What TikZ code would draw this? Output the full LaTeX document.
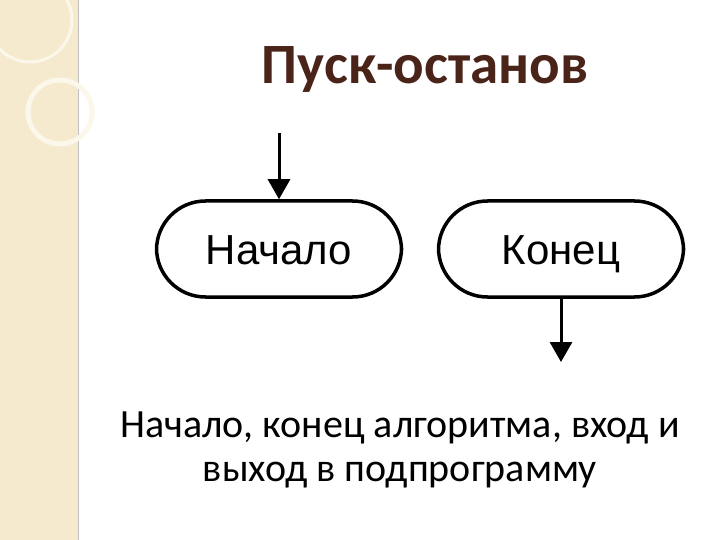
\documentclass[tikz,border=0pt]{standalone}
\usepackage{fontspec}
\setmainfont{Carlito}
\newfontfamily\arialf{Liberation Sans}
\usetikzlibrary{arrows.meta}
\definecolor{strip}{HTML}{F5EACD}
\definecolor{titlec}{HTML}{4A2418}
\tikzset{term/.style={draw=black,line width=3.5pt,rounded corners=49pt,minimum width=245pt,minimum height=96pt,text height=30pt,text depth=0pt,font=\arialf\fontsize{42}{48}\selectfont},
arr/.style={line width=3pt,-{Triangle[length=20pt,width=22pt]}}}
\begin{document}
\begin{tikzpicture}[x=1pt,y=-1pt]
\useasboundingbox (0,0) rectangle (720,540);
\fill[white] (0,0) rectangle (720,540);
\fill[strip] (0,0) rectangle (78,540);
\draw[gray!50,line width=1pt] (78,0) -- (78,540);
\draw[white!60!strip,line width=5pt] (60,112) circle (32);
\draw[white!60!strip,line width=3pt] (30,20) circle (42);
\node[text=titlec,font=\bfseries\fontsize{57}{64}\selectfont] (title) at (425,70) {Пуск-останов};
\node[term] (start) at (279,249) {Начало};
\node[term] (end) at (561,249) {Конец};
\coordinate (in) at (279,133);
\coordinate (out) at (561,362);
\draw[arr] (in) -- (start.north);
\draw[arr] (end.south) -- (out);
\node[align=center,font=\fontsize{40}{44}\selectfont] (cap) at (400,450) {Начало, конец алгоритма, вход и\\выход в подпрограмму};
\end{tikzpicture}
\end{document}
